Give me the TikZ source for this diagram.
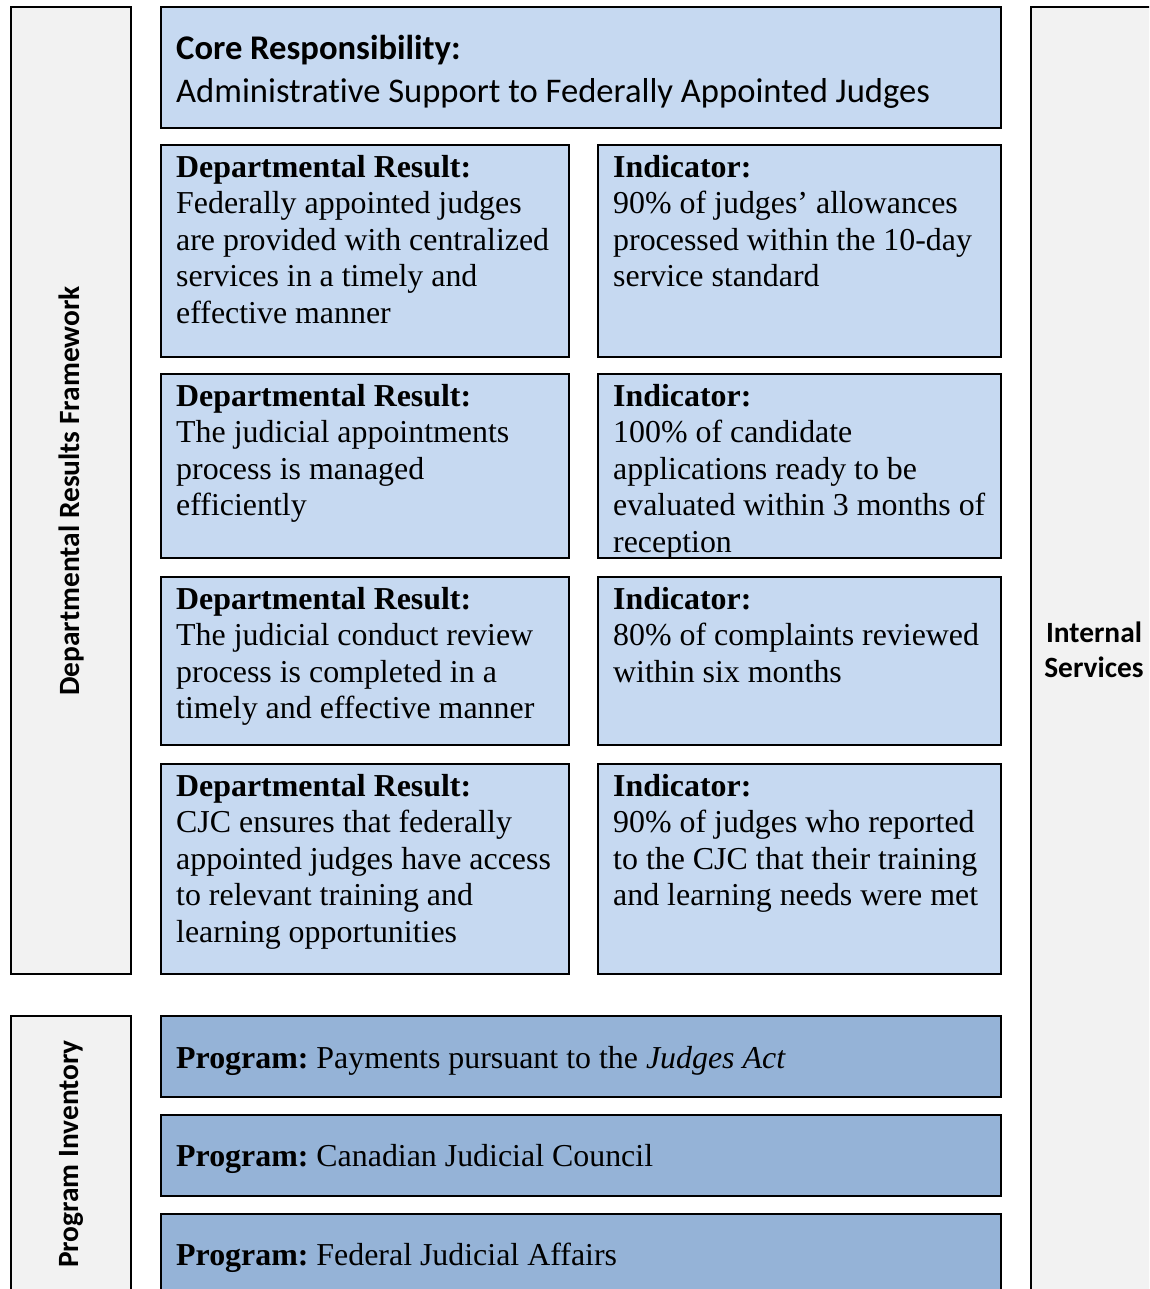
\documentclass[tikz,border=0pt]{standalone}
\usepackage{fontspec}
\setmainfont{Liberation Serif}
\newfontfamily\calibri[Ligatures=NoCommon]{Carlito}
\usetikzlibrary{positioning}

\definecolor{resblue}{HTML}{C6D9F1}
\definecolor{progblue}{HTML}{95B3D7}
\definecolor{sidegray}{HTML}{F2F2F2}
\frenchspacing

\begin{document}
\begin{tikzpicture}[x=1pt,y=-1pt,
         box/.style = {draw=black, line width=2.6pt, inner sep=0pt,
         outer sep=0pt, anchor=north west},
         sidebox/.style = {box, fill=sidegray},
         resbox/.style = {box, fill=resblue},
         progbox/.style = {box, fill=progblue, minimum width=840pt},
         restext/.style = {inner sep=0pt, align=left, anchor=north west,
         font=\fontsize{31.9}{36.5}\selectfont},
         progtext/.style = {inner sep=0pt, anchor=base west,
         font=\fontsize{31.9}{36.5}\selectfont},
         sidetext/.style = {inner sep=0pt, align=center,
         font=\calibri\bfseries\fontsize{29.4}{35}\selectfont}
]
      \clip (0,0) rectangle (1149,1289);

      % side columns
      \node[sidebox, minimum width=120pt, minimum height=967pt] (drf) at (11,7) {};
      \node[sidebox, minimum width=120pt, minimum height=290pt] (pinv) at (11,1016) {};
      \node[sidebox, minimum width=140pt, minimum height=1300pt] (intl) at (1031,7) {};

      \node[sidetext, rotate=90] (drflabel) at (71,491) {Departmental Results Framework};
      \node[sidetext, rotate=90] (pinvlabel) at (71,1154) {Program Inventory};
      \node[sidetext] (intllabel) at (1094,650) {Internal\\Services};

      % core responsibility
      \node[resbox, minimum width=840pt, minimum height=121pt] (core) at (161,7) {};
      \node[restext, font=\calibri\fontsize{34.6}{43}\selectfont,
         below right=28pt and 15pt of core.north west]
         (coretext) {\textbf{Core Responsibility:}\\Administrative Support to Federally Appointed Judges};

      % departmental results and indicators
      \node[resbox, minimum width=408pt, minimum height=212pt] (r1) at (161,145) {};
      \node[resbox, minimum width=403pt, minimum height=212pt] (i1) at (598,145) {};
      \node[resbox, minimum width=408pt, minimum height=184pt] (r2) at (161,374) {};
      \node[resbox, minimum width=403pt, minimum height=184pt] (i2) at (598,374) {};
      \node[resbox, minimum width=408pt, minimum height=168pt] (r3) at (161,577) {};
      \node[resbox, minimum width=403pt, minimum height=168pt] (i3) at (598,577) {};
      \node[resbox, minimum width=408pt, minimum height=210pt] (r4) at (161,764) {};
      \node[resbox, minimum width=403pt, minimum height=210pt] (i4) at (598,764) {};

      \node[restext, below right=10pt and 15pt of r1.north west] (r1text)
         {\textbf{Departmental Result:}\\Federally appointed judges\\are provided with centralized\\services in a timely and\\effective manner};
      \node[restext, below right=10pt and 15pt of i1.north west] (i1text)
         {\textbf{Indicator:}\\90\% of judges’ allowances\\processed within the 10-day\\service standard};
      \node[restext, below right=10pt and 15pt of r2.north west] (r2text)
         {\textbf{Departmental Result:}\\The judicial appointments\\process is managed\\efficiently};
      \node[restext, below right=10pt and 15pt of i2.north west] (i2text)
         {\textbf{Indicator:}\\100\% of candidate\\applications ready to be\\evaluated within 3 months of\\reception};
      \node[restext, below right=10pt and 15pt of r3.north west] (r3text)
         {\textbf{Departmental Result:}\\The judicial conduct review\\process is completed in a\\timely and effective manner};
      \node[restext, below right=10pt and 15pt of i3.north west] (i3text)
         {\textbf{Indicator:}\\80\% of complaints reviewed\\within six months};
      \node[restext, below right=10pt and 15pt of r4.north west] (r4text)
         {\textbf{Departmental Result:}\\CJC ensures that federally\\appointed judges have access\\to relevant training and\\learning opportunities};
      \node[restext, below right=10pt and 15pt of i4.north west] (i4text)
         {\textbf{Indicator:}\\90\% of judges who reported\\to the CJC that their training\\and learning needs were met};

      % programs
      \node[progbox, minimum height=81pt] (p1) at (161,1016) {};
      \node[progbox, minimum height=81pt] (p2) at (161,1115) {};
      \node[progbox, minimum height=90pt] (p3) at (161,1214) {};

      \node[progtext] (p1text) at (176,1068) {\textbf{Program:} Payments pursuant to the \textit{Judges Act}};
      \node[progtext] (p2text) at (176,1166) {\textbf{Program:} Canadian Judicial Council};
      \node[progtext] (p3text) at (176,1265) {\textbf{Program:} Federal Judicial Affairs};
   \end{tikzpicture}
\end{document}
